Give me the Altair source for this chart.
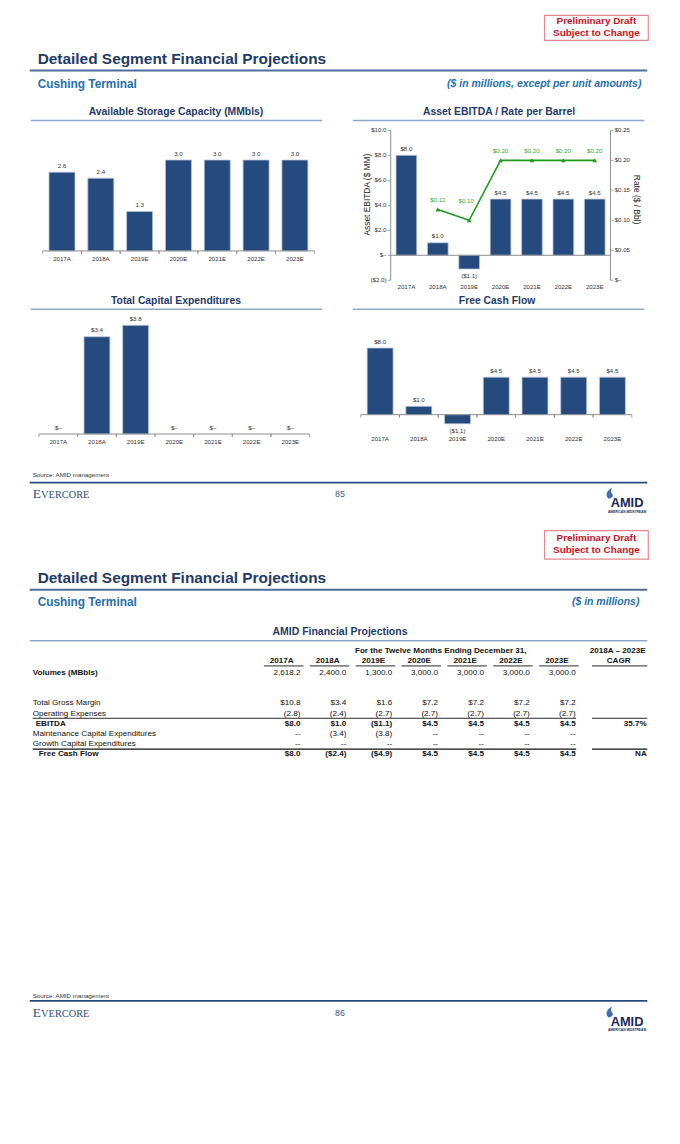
import altair as alt
import pandas as pd

# ---------------- data ----------------
years = ["2017A", "2018A", "2019E", "2020E", "2021E", "2022E", "2023E"]
storage_mmbls = [2.6, 2.4, 1.3, 3.0, 3.0, 3.0, 3.0]
asset_ebitda = [8.0, 1.0, -1.1, 4.5, 4.5, 4.5, 4.5]
rate_per_bbl = [None, 0.118, 0.100, 0.200, 0.200, 0.200, 0.200]
total_capex = [0.0, 3.4, 3.8, 0.0, 0.0, 0.0, 0.0]
fcf_chart = [8.0, 1.0, -1.1, 4.5, 4.5, 4.5, 4.5]
ebitda_ticks = [-2, 0, 2, 4, 6, 8, 10]
rate_ticks = [0.0, 0.05, 0.10, 0.15, 0.20, 0.25]

row_names = ["Volumes (MBbls)", "Total Gross Margin", "Operating Expenses", "EBITDA",
             "Maintenance Capital Expenditures", "Growth Capital Expenditures", "Free Cash Flow"]
volumes = [2618.2, 2400.0, 1300.0, 3000.0, 3000.0, 3000.0, 3000.0]
gross_margin = [10.8, 3.4, 1.6, 7.2, 7.2, 7.2, 7.2]
operating_expenses = [-2.8, -2.4, -2.7, -2.7, -2.7, -2.7, -2.7]
ebitda = [8.0, 1.0, -1.1, 4.5, 4.5, 4.5, 4.5]
maintenance_capex = [0.0, -3.4, -3.8, 0.0, 0.0, 0.0, 0.0]
growth_capex = [0.0, 0.0, 0.0, 0.0, 0.0, 0.0, 0.0]
free_cash_flow = [8.0, -2.4, -4.9, 4.5, 4.5, 4.5, 4.5]
cagr_rows = ["EBITDA", "Free Cash Flow"]
cagr_values = ["35.7%", "NA"]

# ---------------- style ----------------
SANS = "Liberation Sans, Arial, Helvetica, sans-serif"
SERIF = "Liberation Serif, Times New Roman, serif"
NAVY = "#1f3a68"
BLUE = "#1f6fb2"
BAR = "#254a7d"
BAR_EDGE = "#b7c6dc"
AXIS = "#8c8c8c"
LABEL = "#333333"
GREEN_LINE = "#1f9a1f"
GREEN_TEXT = "#2eaa2e"
RULE_HEADER = "#4f6e9c"
RULE_CHART = "#8fa8cc"
RULE_FOOTER = "#284a80"
RED = "#d0101a"
BOX_EDGE = "#e5898c"
EVER = "#2e4d7f"
INK = "#111111"
SMALL = 6.2      # chart tick / data labels
TFS = 8.2        # table text


def px(v):
    return v - 8


def py(v):
    return v - 8


ONE = pd.DataFrame({"k": [0]})


def T(text, x, y, size, color="#000000", weight="normal", align="left", style="normal",
      font=SANS, angle=0, baseline="middle"):
    return alt.Chart(ONE).mark_text(
        text=text, font=font, fontSize=size, color=color, fontWeight=weight,
        fontStyle=style, align=align, baseline=baseline, angle=angle
    ).encode(x=alt.value(px(x)), y=alt.value(py(y)))


def H(x1, x2, y, color, w):
    return alt.Chart(ONE).mark_rule(color=color, strokeWidth=w).encode(
        x=alt.value(px(x1)), x2=alt.value(px(x2)), y=alt.value(py(y)))


def BOX(x1, x2, y1, y2, stroke, fill="white"):
    return alt.Chart(ONE).mark_rect(fill=fill, stroke=stroke, strokeWidth=1.2).encode(
        x=alt.value(px(x1)), x2=alt.value(px(x2)), y=alt.value(py(y1)), y2=alt.value(py(y2)))


def money(v):
    if v == 0:
        return "$–"
    return f"${v:.1f}" if v > 0 else f"(${-v:.1f})"


def tbl_money(v):
    if v == 0:
        return "--"
    return f"${v:,.1f}" if v > 0 else f"(${-v:,.1f})"


def tbl_plain(v):
    if v == 0:
        return "--"
    return f"{v:,.1f}" if v > 0 else f"({-v:,.1f})"


def bar_chart(values, fmt, xs, ys, x0, x1, xlab_y, axis_ticks=True):
    step = (x1 - x0) / len(years)
    df = pd.DataFrame({"year": years, "v": values, "label": [fmt(v) for v in values],
                       "z": [0] * len(years)})
    X = alt.X("year:N", scale=xs, axis=None)
    Y = alt.Y("v:Q", scale=ys, axis=None)
    base = alt.Chart(df)
    out = [
        base.transform_filter("datum.v != 0").mark_bar(
            color=BAR, stroke=BAR_EDGE, strokeWidth=0.8).encode(x=X, y=Y),
        base.transform_filter("datum.v >= 0").mark_text(
            dy=-6.5, fontSize=SMALL, font=SANS, color=LABEL).encode(x=X, y=Y, text="label:N"),
        base.transform_filter("datum.v < 0").mark_text(
            dy=7.5, fontSize=SMALL, font=SANS, color=LABEL).encode(x=X, y=Y, text="label:N"),
        base.mark_text(fontSize=SMALL, font=SANS, color=LABEL).encode(
            x=X, y=alt.value(py(xlab_y)), text="year:N"),
    ]
    zero = pd.DataFrame({"v": [0]})
    out.append(alt.Chart(zero).mark_rule(color=AXIS, strokeWidth=1).encode(
        x=alt.value(px(x0)), x2=alt.value(px(x1)), y=alt.Y("v:Q", scale=ys, axis=None)))
    if axis_ticks:
        for off in (-step / 2, step / 2):
            out.append(base.mark_rule(color=AXIS, strokeWidth=0.8, xOffset=off, y2Offset=3).encode(
                x=X, y=alt.Y("z:Q", scale=ys, axis=None), y2=alt.Y2("z:Q")))
    return out


def header(box_y1, box_y2, t1, t2, title_y, rule_y, sub_y, right_text, right_x):
    return [
        BOX(551, 656, box_y1, box_y2, BOX_EDGE),
        T("Preliminary Draft", 603.5, t1, 10, RED, "bold", "center"),
        T("Subject to Change", 603.5, t2, 10, RED, "bold", "center"),
        T("Detailed Segment Financial Projections", 38, title_y, 15.6, NAVY, "bold"),
        H(30, 655, rule_y, RULE_HEADER, 2),
        T("Cushing Terminal", 38, sub_y, 12, BLUE, "bold"),
        T(right_text, right_x, sub_y, 10.6, BLUE, "bold", "right", "italic"),
    ]


layers = []

# ---------------- page 85 header ----------------
layers += header(8.6, 34, 14.5, 26, 52.5, 64.3, 78.3,
                 "($ in millions, except per unit amounts)", 649)
layers += [
    T("Available Storage Capacity (MMbls)", 178, 106.5, 10.5, NAVY, "bold", "center"),
    T("Asset EBITDA / Rate per Barrel", 505, 106.5, 10.5, NAVY, "bold", "center"),
    H(31, 326, 115, RULE_CHART, 1.5),
    H(357, 652, 115, RULE_CHART, 1.5),
    T("Total Capital Expenditures", 178, 297.3, 10.5, NAVY, "bold", "center"),
    T("Free Cash Flow", 503, 297.3, 10.5, NAVY, "bold", "center"),
    H(31, 326, 306, RULE_CHART, 1.5),
    H(357, 652, 306, RULE_CHART, 1.5),
]

# ---------------- storage chart ----------------
st_x = alt.Scale(domain=years, range=[px(43), px(318)], paddingInner=0.33, paddingOuter=0.165)
st_y = alt.Scale(domain=[0, 3.0], range=[py(247), py(155)], nice=False, zero=False)
layers += bar_chart(storage_mmbls, lambda v: f"{v:.1f}", st_x, st_y, 43, 318, 255)

# ---------------- EBITDA / rate chart ----------------
eb_x = alt.Scale(domain=years, range=[px(395.3), px(617.7)], paddingInner=0.34, paddingOuter=0.17)
eb_y = alt.Scale(domain=[-2, 10], range=[py(276.7), py(125)], nice=False, zero=False)
rt_y = alt.Scale(domain=[0, 0.25], range=[py(276.7), py(125)], nice=False, zero=False)
layers += bar_chart(asset_ebitda, money, eb_x, eb_y, 395.3, 617.7, 283.3, axis_ticks=False)

eb_t = pd.DataFrame({"v": ebitda_ticks,
                     "label": ["$–" if v == 0 else (f"${v:.1f}" if v > 0 else f"(${-v:.1f})")
                               for v in ebitda_ticks]})
rt_t = pd.DataFrame({"v": rate_ticks,
                     "label": ["$–" if v == 0 else f"${v:.2f}" for v in rate_ticks]})
EY = alt.Y("v:Q", scale=eb_y, axis=None)
RY = alt.Y("v:Q", scale=rt_y, axis=None)
layers += [
    alt.Chart(ONE).mark_rule(color=AXIS, strokeWidth=1).encode(
        x=alt.value(px(395.3)), y=alt.value(py(125)), y2=alt.value(py(276.7))),
    alt.Chart(ONE).mark_rule(color=AXIS, strokeWidth=1).encode(
        x=alt.value(px(617.7)), y=alt.value(py(125)), y2=alt.value(py(276.7))),
    alt.Chart(eb_t).mark_rule(color=AXIS, strokeWidth=0.8).encode(
        x=alt.value(px(392.3)), x2=alt.value(px(395.3)), y=EY),
    alt.Chart(eb_t).mark_text(align="right", fontSize=SMALL, font=SANS, color=LABEL).encode(
        x=alt.value(px(391)), y=EY, text="label:N"),
    alt.Chart(rt_t).mark_rule(color=AXIS, strokeWidth=0.8).encode(
        x=alt.value(px(617.7)), x2=alt.value(px(620.7)), y=RY),
    alt.Chart(rt_t).mark_text(align="left", fontSize=SMALL, font=SANS, color=LABEL).encode(
        x=alt.value(px(622)), y=RY, text="label:N"),
    T("Asset EBITDA ($ MM)", 371, 190, 8.5, "#222222", angle=270, align="center"),
    T("Rate ($ / Bbl)", 645, 195, 8.5, "#222222", angle=90, align="center"),
]
rate_df = pd.DataFrame({"year": years, "r": rate_per_bbl}).dropna()
rate_df["label"] = [f"${r:.2f}" for r in rate_df["r"]]
RX = alt.X("year:N", scale=eb_x, axis=None)
RR = alt.Y("r:Q", scale=rt_y, axis=None)
layers += [
    alt.Chart(rate_df).mark_line(color=GREEN_LINE, strokeWidth=1.6).encode(x=RX, y=RR),
    alt.Chart(rate_df).mark_point(shape="triangle-up", filled=True, size=22, color=GREEN_LINE,
                                  opacity=1).encode(x=RX, y=RR),
    alt.Chart(rate_df).transform_filter("datum.year != '2019E'").mark_text(
        dy=-9.5, fontSize=SMALL, font=SANS, color=GREEN_TEXT).encode(x=RX, y=RR, text="label:N"),
    alt.Chart(rate_df).transform_filter("datum.year == '2019E'").mark_text(
        dy=-20, dx=-3, fontSize=SMALL, font=SANS, color=GREEN_TEXT).encode(x=RX, y=RR, text="label:N"),
]

# ---------------- capex chart ----------------
cx_x = alt.Scale(domain=years, range=[px(39.3), px(313.3)], paddingInner=0.33, paddingOuter=0.165)
cx_y = alt.Scale(domain=[0, 3.8], range=[py(432.3), py(322.3)], nice=False, zero=False)
layers += bar_chart(total_capex, money, cx_x, cx_y, 39.3, 313.3, 440.7)

# ---------------- FCF chart ----------------
fc_x = alt.Scale(domain=years, range=[px(365), px(639.3)], paddingInner=0.33, paddingOuter=0.165)
fc_y = alt.Scale(domain=[0, 8], range=[py(412.7), py(345.3)], nice=False, zero=False)
layers += bar_chart(fcf_chart, money, fc_x, fc_y, 365, 639.3, 437.3)


# ---------------- footers ----------------
def footer(y_src, y_rule, y_foot, page):
    yl = y_foot + 9.5
    return [
        T("Source: AMID management", 33, y_src, 6.3, "#333333"),
        H(30, 655, y_rule, RULE_FOOTER, 2),
        T("E", 33, y_foot + 4.5, 13.5, EVER, font=SERIF, baseline="alphabetic"),
        T("VERCORE", 41.5, y_foot + 4.5, 10.5, EVER, font=SERIF, baseline="alphabetic"),
        T(page, 344, y_foot, 9, "#3d5a88", align="center"),
        alt.Chart(ONE).mark_point(
            shape="M-0.3,1 C-1,0.45 -0.6,-0.35 0.35,-1 C0.0,-0.35 0.15,0.0 0.45,0.3 C0.55,0.65 0.25,0.95 -0.3,1 Z",
            filled=True, size=130, color="#3f6fb0", opacity=1, strokeWidth=0).encode(
            x=alt.value(px(617.5)), y=alt.value(py(yl - 10.5))),
        T("AMID", 634.5, yl, 13, "#1c2a5c", "bold", "center"),
        T("AMERICAN MIDSTREAM", 634.5, yl + 8.3, 3.3, "#1c2a5c", "bold", "center"),
    ]


layers += footer(474, 481.5, 493, "85")

# ---------------- page 86 header ----------------
layers += header(530, 559, 538, 550, 577.7, 590, 602.7, "($ in millions)", 647)
layers += [
    T("AMID Financial Projections", 344, 632.7, 10.6, NAVY, "bold", "center"),
    H(30, 655, 641.5, RULE_CHART, 1.5),
]

# ---------------- table ----------------
row_domain = ["Volumes (MBbls)", " ", "  ", "Total Gross Margin", "Operating Expenses", "EBITDA",
              "Maintenance Capital Expenditures", "Growth Capital Expenditures", "Free Cash Flow"]
row_scale = alt.Scale(type="point", domain=row_domain, range=[py(674), py(756.5)], padding=0)
col_scale = alt.Scale(type="point", domain=years, range=[px(304), px(582.5)], padding=0)

series = {
    "Volumes (MBbls)": (volumes, tbl_plain, False),
    "Total Gross Margin": (gross_margin, tbl_money, False),
    "Operating Expenses": (operating_expenses, tbl_plain, False),
    "EBITDA": (ebitda, tbl_money, True),
    "Maintenance Capital Expenditures": (maintenance_capex, tbl_plain, False),
    "Growth Capital Expenditures": (growth_capex, tbl_plain, False),
    "Free Cash Flow": (free_cash_flow, tbl_money, True),
}
cells = []
for r in row_names:
    vals, f, bold = series[r]
    for yv, v in zip(years, vals):
        cells.append({"row": r, "year": yv, "text": f(v), "bold": bold})
cells = pd.DataFrame(cells)
TX = alt.X("year:N", scale=col_scale, axis=None)
TY = alt.Y("row:N", scale=row_scale, axis=None)
layers += [
    alt.Chart(cells).transform_filter("!datum.bold").mark_text(
        align="right", fontSize=TFS, font=SANS, color=INK).encode(x=TX, y=TY, text="text:N"),
    alt.Chart(cells).transform_filter("datum.bold").mark_text(
        align="right", fontSize=TFS, font=SANS, fontWeight="bold", color=INK).encode(
        x=TX, y=TY, text="text:N"),
]
lab = pd.DataFrame({"row": row_names})
plain_rows = ["Total Gross Margin", "Operating Expenses", "Maintenance Capital Expenditures",
              "Growth Capital Expenditures"]
layers += [
    alt.Chart(lab).transform_filter(alt.FieldOneOfPredicate(field="row", oneOf=plain_rows)).mark_text(
        align="left", fontSize=TFS, font=SANS, color=INK).encode(
        x=alt.value(px(33)), y=TY, text="row:N"),
    alt.Chart(lab).transform_filter(alt.FieldEqualPredicate(field="row", equal="Volumes (MBbls)")).mark_text(
        align="left", fontSize=TFS, font=SANS, fontWeight="bold", color=INK).encode(
        x=alt.value(px(33)), y=TY, text="row:N"),
    alt.Chart(lab).transform_filter(alt.FieldEqualPredicate(field="row", equal="EBITDA")).mark_text(
        align="left", fontSize=TFS, font=SANS, fontWeight="bold", color=INK).encode(
        x=alt.value(px(36)), y=TY, text="row:N"),
    alt.Chart(lab).transform_filter(alt.FieldEqualPredicate(field="row", equal="Free Cash Flow")).mark_text(
        align="left", fontSize=TFS, font=SANS, fontWeight="bold", color=INK).encode(
        x=alt.value(px(39)), y=TY, text="row:N"),
]
cagr_df = pd.DataFrame({"row": cagr_rows, "text": cagr_values})
layers.append(alt.Chart(cagr_df).mark_text(
    align="right", fontSize=TFS, font=SANS, fontWeight="bold", color=INK).encode(
    x=alt.value(px(654.5)), y=TY, text="text:N"))

yr = pd.DataFrame({"year": years})
layers += [
    T("For the Twelve Months Ending December 31,", 446, 651.7, TFS, INK, "bold", "center"),
    T("2018A – 2023E", 625, 651.7, TFS, INK, "bold", "center"),
    T("CAGR", 626, 662.3, TFS, INK, "bold", "center"),
    alt.Chart(yr).mark_text(dx=-19, fontSize=TFS, font=SANS, fontWeight="bold", color=INK).encode(
        x=TX, y=alt.value(py(662.3)), text="year:N"),
    alt.Chart(yr).mark_rule(color=INK, strokeWidth=0.9, xOffset=-37, x2Offset=3).encode(
        x=TX, x2=alt.X2("year:N"), y=alt.value(py(667))),
    H(599, 655, 667, INK, 0.9),
    H(33, 583, 720, INK, 0.9),
    H(599, 655, 720, INK, 0.9),
    H(33, 583, 751.3, INK, 1.3),
    H(599, 655, 751.3, INK, 1.3),
]

layers += footer(1001, 1006, 1018, "86")

chart = alt.layer(*layers).resolve_scale(x="independent", y="independent").properties(
    width=672, height=1136, padding=0, background="white",
    autosize=alt.AutoSizeParams(type="none"),
).configure_view(stroke=None)

chart.save("out.html", embed_options={"renderer": "svg", "actions": False})
